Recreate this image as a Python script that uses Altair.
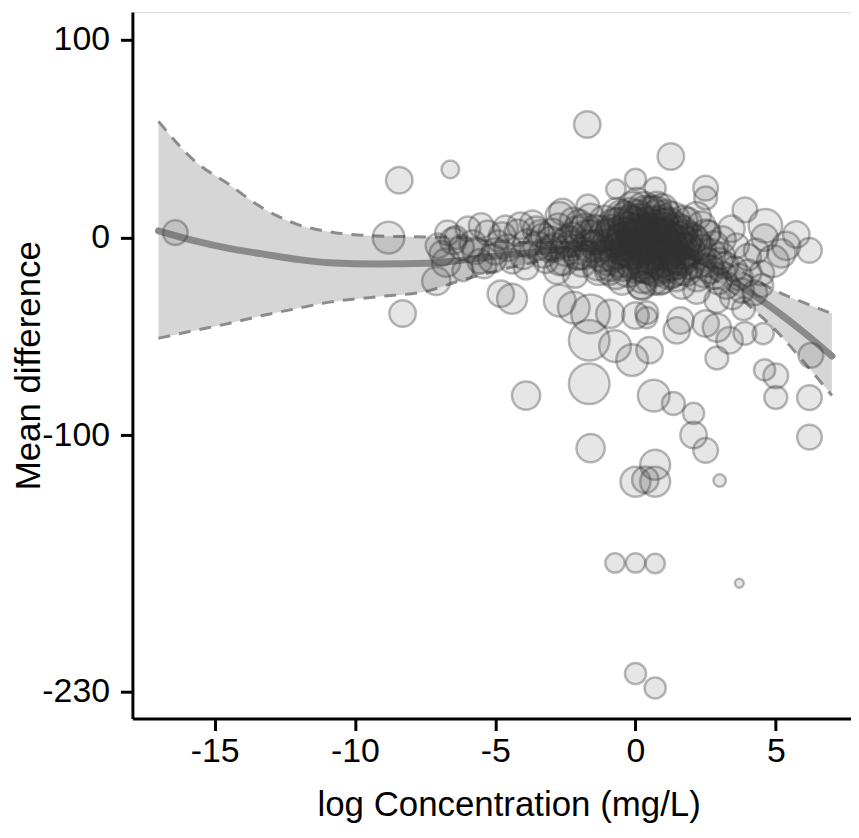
import altair as alt
import pandas as pd

# ---- bubble data: log concentration, mean difference, weight (study size) ----
conc = [
    -16.4, -8.42, -6.6, -8.8, -8.3, -7.1, -1.72, 1.26, 0.0, -0.7, 0.7, 2.5, 2.5, 3.9,
    4.63, 4.6, 5.73, 6.2, 4.9, -4.8, -4.4, -3.9, -2.7, -2.2, -1.6, -1.65, -1.65,
    -0.73, -0.12, 0.0, 0.4, 0.5, 0.65, 1.35, 2.07, 1.6, 2.9, 2.9, 3.9, 4.55, 4.6,
    5.0, 5.0, 6.2, 6.25, 6.2, -1.6, 0.0, 0.35, 0.7, 0.7, 2.07, 2.5, 3.0, -0.73,
    0.0, 0.7, 3.7, 0.0, 0.7, -0.9, 0.4, 1.47, 2.5, 3.35,
    # dense band
    -7.04, -6.7, -6.5, -6.4, -6.75, -5.97, -5.7, -5.27, -5.1, -4.63, -4.56, -4.2,
    -4.0, -5.4, -6.15, -4.9, -3.67, -3.5, -3.2, -2.96, -2.7, -2.5, -2.25, -2.0,
    -1.9, -1.65, -1.44, -1.2, -2.8, -3.3, -2.15, -1.7,
    -0.83, -0.66, -0.48, -0.3, -0.12, 0.0, 0.12, 0.34, 0.41, 0.59, 0.76, 0.94,
    1.12, 1.29, 1.47, 1.65, 1.82, 2.0, -0.48, 0.23, 0.94, 1.65, -0.94, 0.05, 0.76,
    2.18, -0.3, 0.41, 1.19, 0.59, -0.66, 1.4,
    -0.73, -0.37, -0.09, 0.2, 0.48, 0.83, 1.05, 1.26, 1.54, 1.75, -0.23, 0.27,
    0.69, 0.05, 0.98,
    -2.43, -1.72, -1.37, -3.07, -2.07, -1.08,
    2.36, 2.6, 2.82, 3.07, 3.24, 3.53, 3.78, 2.6, 3.6, 2.18, 2.9, 4.02, 3.42,
    4.3, 5.37, 4.5,
    # core
    -0.85, -0.6, -0.4, -0.2, 0.0, 0.15, 0.3, 0.45, 0.6, 0.75, 0.9, 1.05, 1.2, 1.35,
    1.5, 1.65, 1.8, 1.95, -0.7, -0.5, -0.1, 0.25, 0.55, 0.85, 1.1, 1.45, 1.7, 0.1,
    0.7, 1.0, -0.3, 0.35, 1.25, 0.05, 0.65, -0.45, 1.55, 0.95, 0.2, 1.3,
    -0.8, -0.55, -0.35, -0.15, 0.05, 0.2, 0.4, 0.55, 0.7, 0.85, 1.0, 1.15, 1.3, 1.45,
    1.6, 1.75, 1.9, -0.65, -0.25, 0.3, 0.6, 1.2, 1.85, -0.9, 0.15, 0.8, 1.4, -0.4,
    0.45, 1.05, 0.0, 0.95, 1.65, -0.1, 0.65,
    # left shoulder
    -5.8, -5.5, -5.0, -4.75, -4.4, -4.1, -3.85, -3.55, -3.3, -3.0, -2.75, -2.55,
    -2.3, -2.1, -1.85, -1.55, -1.35, -1.1, -1.0, -2.6, -6.9, -6.2, -5.55, -3.9,
    -2.4, -2.0, -1.8, -1.5, -1.25, -1.0, -2.2, -1.6, -2.9, -3.4, -1.3, -2.7,
    # right shoulder
    2.2, 2.45, 2.7, 2.95, 3.2, 3.45, 3.7, 4.0, 4.25, 2.35, 3.1, 3.85, 4.5, 5.2,
    2.1, 2.3, 2.5, 2.65, 2.8, 3.0, 2.2,
]
diff = [
    2.5, 29.0, 34.5, 0.0, -38.4, -22.0, 57.2, 41.0, 29.5, 24.5, 25.0, 25.0, 20.0, 14.0,
    6.0, 0.0, 1.5, -6.5, -12.0, -28.4, -31.0, -80.0, -32.0, -35.5, -38.6, -52.0, -74.0,
    -55.0, -62.0, -39.5, -38.0, -57.0, -80.0, -84.0, -89.0, -42.0, -45.6, -61.0, -48.5, -48.6, -67.0,
    -70.0, -81.0, -81.0, -59.6, -101.0, -106.6, -123.6, -122.6, -115.0, -123.6, -100.0, -107.7, -123.0, -164.7,
    -164.7, -165.0, -175.0, -220.7, -228.0, -38.6, -40.5, -47.0, -43.5, -52.0,
    # dense band
    -4.2, 2.4, -1.7, 0.0, -12.7, 4.4, -6.7, 2.4, -10.7, 4.9, -5.2, 2.4,
    -9.2, -14.3, -16.8, -1.7, 7.4, -4.2, -11.7, 2.4, 10.9, -6.7, 0.9, 7.4,
    -12.7, -4.2, 4.4, -9.2, -16.8, 0.9, -19.2, 16.0,
    3.4, -6.7, 10.9, -1.7, -11.7, 5.9, -4.2, 13.4, -14.3, 0.9, -6.7, 8.4,
    -1.7, -12.7, 3.4, -6.7, -16.8, -0.7, -21.8, -24.3, -21.8, -24.3, -16.8, 18.5, 16.0,
    10.9, -6.7, -4.2, -7.9, 4.4, -1.7, -1.7,
    5.9, 0.9, -5.7, 2.4, -9.2, -0.7, 4.4, -5.7, -10.7, -2.7, 8.4, -12.7,
    -16.8, -0.7, -10.7,
    -1.7, 0.9, -4.2, -5.7, -9.2, 0.9,
    -5.7, -12.7, -19.2, -9.2, -24.3, -15.8, -26.8, 2.4, -4.2, -26.8, -31.8, -17.8, 4.4,
    -6.7, -4.2, -24.3,
    # core
    -8, 6, -14, 12, -2, 8, -10, 2, -16, 10, -4, -14, 6, -3,
    -12, 3, -8, -14, -18, 1, 16, -20, 14, -22, 12, -20, 9, -6,
    -2, 0, 4, -14, -9, 2, 5, -5, -1, 7, -24, -18,
    0, -10, 9, -6, 10, -12, 5, -6, 12, -10, 4, -6, 9, -8,
    -15, 0, -6, 12, -16, 15, -20, -17, 8, -14, 0, 0, 1, -2,
    -2, -12, -14, 14, -10, 6, 6,
    # left shoulder
    -3, 6, -7, 1, -12, 6, -3, 4, -8, -2, 5, -12,
    -4, 3, -8, 1, -14, 8, -4, 13, -8, -5, -12, -15,
    -2, -8, 4, -6, 2, -10, 8, 10, -5, 2, -16, -12,
    # right shoulder
    -4, -18, -8, -22, -14, -30, -20, -10, -28, 6, -1, -36, -18, -8,
    -2, -12, 2, -16, -4, -12, -20,
]
weight = [
    196, 225, 100, 324, 225, 256, 225, 225, 144, 121, 144, 196, 169, 196,
    361, 225, 225, 196, 324, 225, 289, 256, 324, 324, 484, 529, 529,
    324, 324, 225, 169, 225, 324, 169, 144, 225, 256, 169, 169, 144, 144,
    196, 169, 196, 196, 196, 256, 289, 225, 289, 289, 225, 196, 49, 121,
    121, 121, 25, 144, 144, 256, 144, 225, 225, 225,
    # dense band
    196, 196, 225, 169, 256, 196, 225, 196, 256, 196, 225, 225,
    225, 196, 144, 144, 196, 256, 196, 256, 256, 289, 225, 225,
    256, 324, 256, 324, 225, 196, 196, 169,
    324, 400, 324, 484, 400, 400, 484, 289, 400, 484, 400, 324,
    484, 400, 400, 400, 289, 324, 256, 256, 225, 225, 256, 225, 256,
    256, 324, 400, 324, 324, 324, 324,
    400, 400, 484, 400, 400, 484, 324, 400, 324, 324, 324, 324,
    324, 484, 400,
    256, 324, 324, 225, 256, 324,
    256, 256, 225, 225, 225, 196, 196, 196, 196, 225, 196, 225, 225,
    196, 256, 169,
    # core
    400, 400, 324, 324, 484, 400, 400, 484, 324, 400, 484, 400, 400, 484,
    400, 324, 324, 256, 324, 484, 256, 324, 256, 256, 256, 256, 256, 484,
    484, 484, 400, 400, 400, 484, 400, 400, 400, 324, 256, 256,
    484, 484, 400, 529, 400, 529, 529, 529, 400, 529, 529, 529, 400, 484,
    400, 400, 324, 324, 400, 324, 400, 400, 256, 324, 529, 529, 484, 484,
    529, 484, 400, 324, 400, 484, 484,
    # left shoulder
    225, 196, 225, 225, 196, 225, 256, 225, 256, 289, 256, 256,
    289, 289, 324, 324, 289, 324, 324, 225, 196, 196, 196, 196,
    324, 324, 324, 400, 400, 400, 256, 256, 256, 225, 324, 256,
    # right shoulder
    289, 256, 256, 225, 225, 196, 225, 225, 196, 256, 225, 169, 196, 256,
    324, 324, 256, 256, 256, 225, 256,
]

# ---- smooth fit with confidence band ----
fit_x = [-17, -15.7, -14.5, -13.3, -12.1, -10.9, -9.2, -7.4, -6.3, -5, -3, -1, 0, 1, 2, 3, 4, 5, 6, 7]
fit_y = [3.4, -1.7, -5.5, -8.3, -11, -12.8, -13.4, -13, -11.7, -9.5, -6.5, -5, -5, -6, -10, -17, -27, -37, -48, -60]
fit_hi = [58.8, 38.6, 27, 15, 6.9, 2.9, 0.8, 0.3, 0, -2, -2.5, -2, -2, -3, -6, -11, -19, -27, -33, -38.5]
fit_lo = [-51, -47, -43.5, -39.5, -36, -32.7, -30, -27, -22, -17, -11, -8, -8, -9, -14, -23, -34, -47, -63, -80]

x_ticks = [-15, -10, -5, 0, 5]
y_ticks = [100, 0, -100, -230]

pts = pd.DataFrame({"conc": conc, "diff": diff, "weight": weight})
fit = pd.DataFrame({"x": fit_x, "fit": fit_y, "lo": fit_lo, "hi": fit_hi})

FONT = "Liberation Sans"
xscale = alt.Scale(domain=[-17.93, 7.68], nice=False, zero=False)
yscale = alt.Scale(domain=[-243.5, 114.2], nice=False, zero=False)

xaxis = alt.Axis(
    values=x_ticks, title="log Concentration (mg/L)", grid=False,
    labelExpr="'' + datum.value",
    domainColor="black", domainWidth=3, tickColor="black", tickWidth=3, tickSize=12,
    labelFont=FONT, labelFontSize=34, labelColor="black", labelPadding=4,
    titleFont=FONT, titleFontSize=35, titleFontWeight="normal", titleColor="black",
    titleX=378, titleY=97, titleBaseline="alphabetic", titleAlign="center",
)
yaxis = alt.Axis(
    values=y_ticks, title="Mean difference", grid=False,
    labelExpr="'' + datum.value",
    domainColor="black", domainWidth=3, tickColor="black", tickWidth=3, tickSize=12,
    labelFont=FONT, labelFontSize=34, labelColor="black", labelPadding=11,
    titleFont=FONT, titleFontSize=35, titleFontWeight="normal", titleColor="black",
    titleX=-93, titleY=355, titleAngle=270, titleBaseline="alphabetic", titleAlign="center",
)

base = alt.Chart(fit)
band = base.mark_area(color="#d6d6d6", opacity=1, interpolate="monotone").encode(
    x=alt.X("x:Q", scale=xscale, axis=xaxis),
    y=alt.Y("lo:Q", scale=yscale, axis=yaxis),
    y2="hi:Q",
)
upper = base.mark_line(color="#8c8c8c", strokeWidth=3, strokeDash=[12, 9], interpolate="monotone").encode(
    x=alt.X("x:Q", scale=xscale, axis=xaxis),
    y=alt.Y("hi:Q", scale=yscale, axis=yaxis),
)
lower = base.mark_line(color="#8c8c8c", strokeWidth=3, strokeDash=[12, 9], interpolate="monotone").encode(
    x=alt.X("x:Q", scale=xscale, axis=xaxis),
    y=alt.Y("lo:Q", scale=yscale, axis=yaxis),
)
line = base.mark_line(color="#8a8a8a", strokeWidth=7, strokeCap="round", interpolate="monotone").encode(
    x=alt.X("x:Q", scale=xscale, axis=xaxis),
    y=alt.Y("fit:Q", scale=yscale, axis=yaxis),
)
bubbles = alt.Chart(pts).mark_circle(
    fill="#333333", fillOpacity=0.12, stroke="#333333", strokeOpacity=0.34, strokeWidth=2.5
).encode(
    x=alt.X("conc:Q", scale=xscale, axis=xaxis),
    y=alt.Y("diff:Q", scale=yscale, axis=yaxis),
    size=alt.Size("weight:Q", scale=alt.Scale(domain=[0, 400], range=[0, 1256.6], zero=True), legend=None),
)

chart = alt.layer(band, upper, lower, line, bubbles).properties(
    width=722, height=710,
    autosize=alt.AutoSizeParams(type="none"),
    padding={"left": 125, "top": 2, "right": 0, "bottom": 110},
).configure_view(stroke=None).configure(background="white")

chart.save("out.html", embed_options={"renderer": "svg", "actions": False})
